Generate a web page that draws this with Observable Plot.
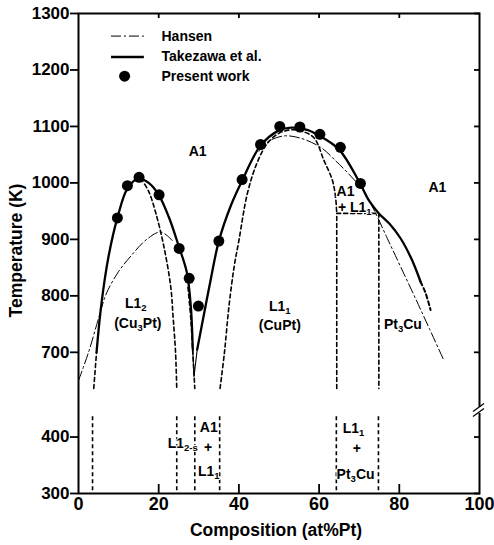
<!DOCTYPE html>
<html><head><meta charset="utf-8">
<script src="https://cdn.jsdelivr.net/npm/d3@7"></script>
<script src="https://cdn.jsdelivr.net/npm/@observablehq/plot@0.6"></script>
<style>
body{margin:0;background:#fff}
svg{font-family:"Liberation Sans",Arial,Helvetica,sans-serif;font-weight:bold}
</style>
</head><body><div id="chart"></div>
<script>
// ---- axis ticks ----
const xTickLabels = [0, 20, 40, 60, 80, 100];
const xInnerTicks = [20, 40, 60, 80];
const yTickLabels = [300, 400, 700, 800, 900, 1000, 1100, 1200, 1300];
const breakMarkT = 447; // lower-scale temperature where the axis break is drawn

// ---- Present work (dots) ----
const presentX = [9.7, 12.2, 15.1, 20.1, 25.1, 27.6, 29.9, 35.0, 40.8, 45.4, 50.2, 55.2, 60.2, 65.3, 70.3];
const presentT = [938, 995, 1010, 979, 884, 831, 782, 897, 1006, 1068, 1100, 1099, 1086, 1063, 999];

// ---- Takezawa et al. (solid) ----
const takLeftX  = [4.5, 5.7, 7.5, 9.7, 12.2, 15.0, 17.5, 20.0, 22.5, 25.0, 27.0, 28.0, 28.5];
const takLeftT  = [700, 785, 870, 938, 990, 1008, 1000, 979, 940, 888, 842, 782, 705];
const takTipX   = [28.5, 28.8, 29.6];
const takTipT   = [705, 657, 705];
const takRightX = [29.6, 31.3, 33.0, 35.0, 38.0, 40.8, 45.4, 50.0, 53.0, 57.0, 60.0, 65.0, 70.0, 72.5, 74.9, 77.5, 80.3, 83.0, 85.3];
const takRightT = [705, 768, 830, 897, 960, 1004, 1066, 1093, 1098, 1094, 1084, 1059, 1002, 968, 946, 928, 902, 866, 825];
const takExtX   = [85.3, 86.5, 87.8];
const takExtT   = [825, 806, 775];

// ---- Hansen (dash-dot) ----
const hanLeftX  = [0, 2.5, 5.0, 7.0, 10.0, 13.0, 17.0, 20.5, 23.4];
const hanLeftT  = [650, 700, 760, 805, 843, 870, 900, 913, 898];
const hanRightX = [45.0, 47.0, 51.0, 55.0, 60.4, 64.0, 67.9, 71.2, 73.7, 77.0, 80.3, 84.0, 87.5, 91.1];
const hanRightT = [1056, 1072, 1083, 1080, 1063, 1040, 1012, 985, 952, 902, 852, 796, 742, 686];

// ---- ordering boundaries (dashed) ----
const l12LeftX  = [3.8, 4.5];
const l12LeftT  = [636, 700];
const l12RightX = [15.5, 17.5, 19.3, 21.3, 23.0, 23.6, 24.2, 24.5];
const l12RightT = [1008, 985, 946, 887, 816, 762, 700, 636];
const vDashX    = [27.3, 28.0, 28.5, 29.0];
const vDashT    = [815, 760, 700, 636];
const l11DomeX  = [35.3, 36.4, 37.5, 38.8, 40.0, 42.1, 44.5, 47.1, 50.0, 53.0, 55.5, 58.7, 61.2, 63.3, 64.1, 64.4];
const l11DomeT  = [636, 700, 780, 851, 898, 981, 1035, 1070, 1088, 1094, 1092, 1080, 1040, 1005, 975, 946];
const boxX      = [64.4, 64.4, 74.9, 74.9];
const boxT      = [636, 946, 946, 636];
const lowerVertX = [3.5, 24.5, 29.0, 35.2, 64.3, 74.8];
const lowerTopT = 437, lowerBotT = 300;

// ---- region labels (_{..} marks a subscript) ----
const regionLabels = ["A1", "A1", "L1_{2}", "(Cu_{3}Pt)", "L1_{1}", "(CuPt)", "A1", "+ L1_{1}", "Pt_{3}Cu",
                      "L1_{2-s}", "A1", "+", "L1_{1}", "L1_{1}", "+", "Pt_{3}Cu"];
const regionX = [29.7, 89.5, 14.3, 14.8, 50.2, 50.2, 66.6, 68.9, 80.9,
                 26.0, 32.5, 32.3, 32.5, 68.6, 69.4, 69.1];
const regionT = [1055, 992, 787, 751, 782, 748, 984, 957, 749,
                 389, 417, 381, 339, 415, 380, 334];

// ---- legend ----
const legendLabels = ["Hansen", "Takezawa et al.", "Present work"];
const legendT = [1260, 1223, 1189];

// ---- broken temperature axis: values above 550 K are shifted down by 150 K ----
const breakAt = 550, shift = 150;
const toV = T => T >= breakAt ? T - shift : T;
const labelOf = new Map(yTickLabels.map(T => [toV(T), T]));
const pts = (xs, ts) => xs.map((x, i) => [x, toV(ts[i])]);

const solid = {stroke: "black", strokeWidth: 2.3, curve: "catmull-rom"};
const dashed = {stroke: "black", strokeWidth: 1.6, strokeDasharray: "4,3", curve: "catmull-rom"};
const dashdot = {stroke: "black", strokeWidth: 1, strokeDasharray: "10,3,2,3", curve: "catmull-rom"};

const regions = regionLabels.map((t, i) => ({t, x: regionX[i], y: toV(regionT[i])}));
const dots = presentX.map((x, i) => ({x, y: toV(presentT[i])}));
const lowerVerts = lowerVertX.map(x => ({x, y1: lowerTopT, y2: lowerBotT}));

const breakMark = (index, {x, y}) => {
  const g = d3.create("svg:g");
  const px = x(100), py = y(breakMarkT);
  g.append("rect").attr("x", px - 3).attr("y", py - 3).attr("width", 6).attr("height", 6).attr("fill", "white");
  for (const o of [-2.5, 2.5]) {
    g.append("line").attr("x1", px - 6).attr("y1", py + o + 4).attr("x2", px + 5).attr("y2", py + o - 4)
      .attr("stroke", "black").attr("stroke-width", 1.3);
  }
  return g.node();
};

const chart = Plot.plot({
  width: 494, height: 545,
  marginLeft: 78, marginRight: 15, marginTop: 13, marginBottom: 52,
  x: {domain: [0, 100]},
  y: {domain: [300, 1150]},
  style: {fontFamily: "'Liberation Sans', Arial, sans-serif", fontWeight: "bold", color: "black", background: "white", overflow: "visible"},
  marks: [
    Plot.frame({stroke: "black", strokeWidth: 2}),
    Plot.axisY({anchor: "left", ticks: yTickLabels.map(toV), tickSize: 8, tickPadding: 1, strokeWidth: 1.8,
                tickFormat: v => String(labelOf.get(v)), fontSize: 17, label: null}),
    Plot.axisY({anchor: "right", ticks: yTickLabels.map(toV), tickSize: -6, strokeWidth: 1.8, text: null, label: null}),
    Plot.axisX({anchor: "top", ticks: xInnerTicks, tickSize: -4, strokeWidth: 1.8, text: null, label: null}),
    Plot.axisX({anchor: "bottom", ticks: xInnerTicks, tickSize: -9, strokeWidth: 1.8, text: null, label: null}),
    Plot.axisX({anchor: "bottom", ticks: xTickLabels, tickSize: 0, tickPadding: 4, fontSize: 18, label: null}),
    Plot.text(["Temperature (K)"], {frameAnchor: "left", dx: -62, dy: -3, rotate: -90, fontSize: 17.5, textAnchor: "middle"}),
    Plot.text(["Composition (at%Pt)"], {frameAnchor: "bottom", dx: -3, dy: 42, fontSize: 17.5, textAnchor: "middle"}),

    // dashed ordering boundaries
    Plot.line(pts(l12LeftX, l12LeftT), dashed),
    Plot.line(pts(l12RightX, l12RightT), dashed),
    Plot.line(pts(vDashX, vDashT), dashed),
    Plot.line(pts(l11DomeX, l11DomeT), dashed),
    Plot.line(pts(boxX, boxT), {...dashed, curve: "linear"}),
    Plot.link(lowerVerts, {x1: "x", x2: "x", y1: "y1", y2: "y2", stroke: "black", strokeWidth: 1.6, strokeDasharray: "4,3"}),

    // Hansen
    Plot.line(pts(hanLeftX, hanLeftT), dashdot),
    Plot.line(pts(hanRightX, hanRightT), dashdot),

    // Takezawa
    Plot.line(pts(takLeftX, takLeftT), solid),
    Plot.line(pts(takTipX, takTipT), {stroke: "black", strokeWidth: 1.1, curve: "linear"}),
    Plot.line(pts(takRightX, takRightT), solid),
    Plot.line(pts(takExtX, takExtT), {...dashed, strokeWidth: 2}),

    // Present work
    Plot.dot(dots, {x: "x", y: "y", r: 5.5, fill: "black", stroke: null}),

    // labels
    Plot.text(regions, {x: "x", y: "y", text: "t", fontSize: 14, fill: "black", stroke: "white", strokeWidth: 2, paintOrder: "stroke"}),

    // legend
    Plot.link([0], {x1: 8.1, x2: 16.3, y1: toV(legendT[0]), y2: toV(legendT[0]), stroke: "black", strokeWidth: 1, strokeDasharray: "10,3,2,3"}),
    Plot.link([0], {x1: 8.1, x2: 16.3, y1: toV(legendT[1]), y2: toV(legendT[1]), stroke: "black", strokeWidth: 2.3}),
    Plot.dot([0], {x: 11.5, y: toV(legendT[2]), r: 5.5, fill: "black"}),
    Plot.text(legendLabels, {x: 20.7, y: (d, i) => toV(legendT[i]), text: d => d, textAnchor: "start", fontSize: 14}),

    breakMark
  ]
});

// turn _{..} into real subscripts
const NS = "http://www.w3.org/2000/svg";
chart.querySelectorAll("text").forEach(t => {
  const s = t.textContent;
  if (!s.includes("_{")) return;
  t.textContent = "";
  let shifted = false;
  for (const p of s.split(/(_\{[^}]*\})/)) {
    if (!p) continue;
    const ts = document.createElementNS(NS, "tspan");
    if (p.startsWith("_{")) {
      ts.textContent = p.slice(2, -1);
      ts.setAttribute("font-size", "9.5");
      ts.setAttribute("dy", "3");
      shifted = true;
    } else {
      ts.textContent = p;
      if (shifted) { ts.setAttribute("dy", "-3"); shifted = false; }
    }
    t.appendChild(ts);
  }
});
document.getElementById("chart").append(chart);
</script>
</body></html>
